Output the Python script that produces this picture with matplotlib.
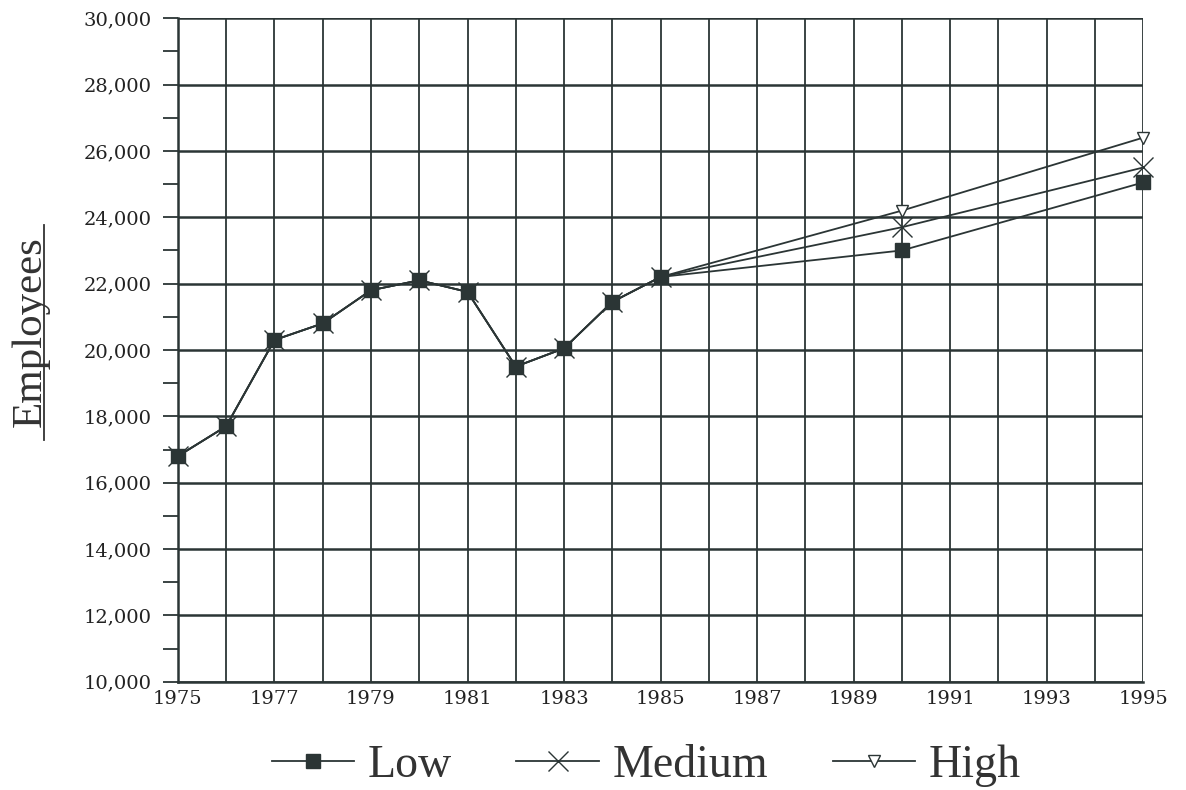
import matplotlib

matplotlib.use("Agg")

import matplotlib.pyplot as plt
from matplotlib.lines import Line2D
from matplotlib.ticker import FuncFormatter, MultipleLocator

# ------------------------------------------------------------
# 数据
# ------------------------------------------------------------
years = [1975, 1976, 1977, 1978, 1979, 1980, 1981, 1982, 1983, 1984, 1985, 1990, 1995]
low = [16800, 17700, 20300, 20800, 21800, 22100, 21750, 19500, 20050, 21450, 22200, 23000, 25050]
medium = [16800, 17700, 20300, 20800, 21800, 22100, 21750, 19500, 20050, 21450, 22200, 23700, 25500]
high = [16800, 17700, 20300, 20800, 21800, 22100, 21750, 19500, 20050, 21450, 22200, 24200, 26400]

x_ticks = list(range(1975, 1996, 2))
INK = "#2b3535"

plt.rcParams["font.family"] = ["DejaVu Serif"]

fig = plt.figure(figsize=(11.86, 7.9), dpi=100)
ax = fig.add_axes([0.150, 0.137, 0.814, 0.840])

# 折线（High 在最底层，Medium 叠在最上）
ax.plot(years, high, color=INK, lw=1.3, marker="v", ms=9, mfc="white",
        mec=INK, mew=1.0, clip_on=False, zorder=3, label="High")
ax.plot(years, low, color=INK, lw=1.3, marker="s", ms=10, mfc=INK,
        mec=INK, clip_on=False, zorder=4, label="Low")
ax.plot(years, medium, color=INK, lw=1.3, marker="x", ms=15, mew=1.0,
        mec=INK, clip_on=False, zorder=5, label="Medium")

ax.set_xlim(1975, 1995)
ax.set_ylim(10000, 30000)

ax.xaxis.set_minor_locator(MultipleLocator(1))
ax.set_xticks(x_ticks)
ax.yaxis.set_major_locator(MultipleLocator(2000))
ax.yaxis.set_minor_locator(MultipleLocator(1000))
ax.yaxis.set_major_formatter(FuncFormatter(lambda v, p: f"{int(v):,}"))

ax.grid(which="both", axis="x", color=INK, lw=1.3)
ax.grid(which="major", axis="y", color=INK, lw=1.8)
ax.set_axisbelow(True)

ax.tick_params(axis="x", which="both", length=0, pad=6, labelsize=14, colors="#222222")
ax.tick_params(axis="y", which="both", length=11, width=1.3, color=INK,
               pad=8, labelsize=14, labelcolor="#222222")

for side in ["top", "right"]:
    ax.spines[side].set_visible(False)
for side in ["left", "bottom"]:
    ax.spines[side].set_color(INK)
    ax.spines[side].set_linewidth(1.8)

# 带下划线的纵轴标题
fig.text(0.026, 0.580, "Employees", rotation=90, ha="center", va="center",
         fontsize=31, family=["Liberation Serif"], color="#333333")
fig.add_artist(Line2D([0.037, 0.037], [0.443, 0.715], color="#333333", lw=1.3))

# 图例
handles, labels = ax.get_legend_handles_labels()
order = [1, 2, 0]
leg = fig.legend([handles[i] for i in order], [labels[i] for i in order],
                 loc="center", bbox_to_anchor=(0.545, 0.031), ncol=3,
                 frameon=False, handlelength=1.8, handletextpad=0.3,
                 columnspacing=1.4, borderpad=0.0,
                 prop={"family": "Liberation Serif", "size": 33})
for t in leg.get_texts():
    t.set_color("#333333")

fig.savefig("out.png", dpi=100)
plt.close(fig)
